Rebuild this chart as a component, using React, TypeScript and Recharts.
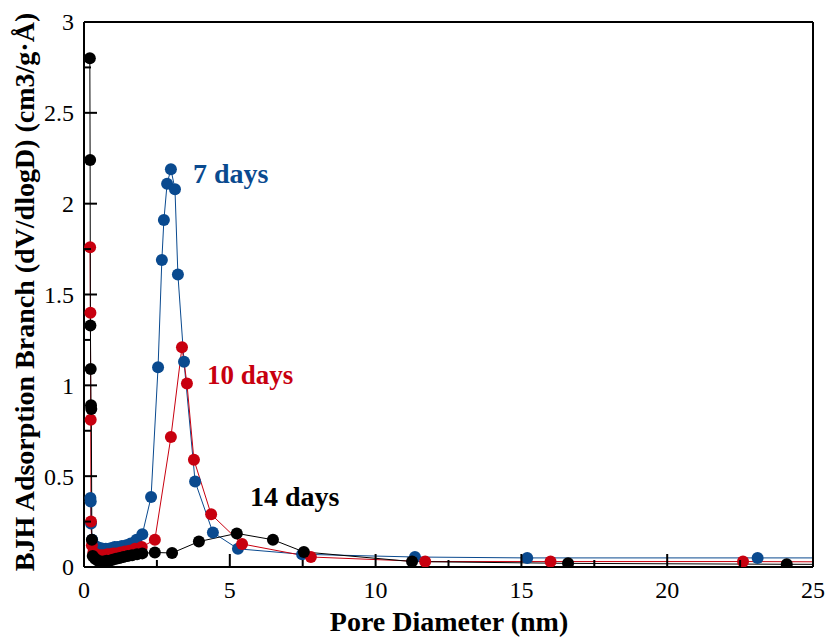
import React from "react";
import { LineChart, Line, XAxis, YAxis, ReferenceLine } from "recharts";

const blueX = [0.22, 0.23, 0.24, 0.28, 0.35, 0.45, 0.55, 0.65, 0.75, 0.85, 0.95, 1.05, 1.15, 1.3, 1.45, 1.6, 1.8, 2.0, 2.3, 2.54, 2.67, 2.74, 2.85, 2.98, 3.12, 3.22, 3.43, 3.81, 4.42, 5.28, 7.48, 11.35, 15.2, 23.1, 40];
const blueY = [0.38, 0.36, 0.24, 0.15, 0.12, 0.11, 0.105, 0.1, 0.1, 0.1, 0.105, 0.11, 0.11, 0.115, 0.12, 0.13, 0.15, 0.18, 0.385, 1.1, 1.69, 1.91, 2.11, 2.19, 2.08, 1.61, 1.13, 0.47, 0.19, 0.1, 0.07, 0.055, 0.05, 0.05, 0.05];

const redX = [0.21, 0.22, 0.23, 0.24, 0.27, 0.32, 0.4, 0.5, 0.6, 0.7, 0.8, 0.9, 1.0, 1.1, 1.25, 1.4, 1.55, 1.75, 1.98, 2.43, 2.98, 3.36, 3.53, 3.77, 4.36, 5.42, 7.78, 11.7, 16.0, 22.6, 40];
const redY = [1.76, 1.4, 0.81, 0.25, 0.12, 0.08, 0.07, 0.065, 0.065, 0.065, 0.07, 0.07, 0.075, 0.075, 0.08, 0.085, 0.09, 0.1, 0.11, 0.15, 0.715, 1.21, 1.01, 0.59, 0.29, 0.127, 0.055, 0.03, 0.03, 0.03, 0.02];

const blackX = [0.2, 0.21, 0.22, 0.23, 0.24, 0.25, 0.27, 0.3, 0.38, 0.48, 0.58, 0.68, 0.78, 0.88, 0.98, 1.1, 1.22, 1.35, 1.5, 1.65, 1.82, 2.0, 2.43, 3.02, 3.94, 5.24, 6.48, 7.54, 11.25, 16.6, 24.1, 40];
const blackY = [2.8, 2.24, 1.33, 1.09, 0.89, 0.87, 0.15, 0.06, 0.045, 0.035, 0.03, 0.03, 0.035, 0.035, 0.04, 0.045, 0.05, 0.055, 0.06, 0.065, 0.07, 0.075, 0.08, 0.077, 0.14, 0.185, 0.15, 0.083, 0.03, 0.02, 0.015, 0.01];

const xTicks = [0, 2.5, 5, 7.5, 10, 12.5, 15, 17.5, 20, 22.5, 25];
const yTicks = [0, 0.25, 0.5, 0.75, 1, 1.25, 1.5, 1.75, 2, 2.25, 2.5, 2.75, 3];

const BLUE = "#0a4a8f";
const RED = "#c8000f";
const BLACK = "#000000";
const FONT = "'Liberation Serif', 'Times New Roman', serif";

const toPoints = (xs: number[], ys: number[]) => xs.map((x, i) => ({ x, y: ys[i] }));
const blueData = toPoints(blueX, blueY);
const redData = toPoints(redX, redY);
const blackData = toPoints(blackX, blackY);

const fmt = (v: number) => String(v);

const YTick = (props: any) => {
  const { x, y, payload } = props;
  const v = payload.value as number;
  const major = Math.abs(v * 2 - Math.round(v * 2)) < 1e-6;
  return (
    <g>
      <line x1={x} x2={x + (major ? 13 : 7)} y1={y} y2={y} stroke="#000" strokeWidth={2} />
      {major && (
        <text x={x - 10} y={y} dy="0.35em" textAnchor="end" fontFamily={FONT} fontSize={24} fill="#000">
          {fmt(v)}
        </text>
      )}
    </g>
  );
};

const XTick = (props: any) => {
  const { x, y, payload } = props;
  const v = payload.value as number;
  const major = Math.abs(v / 5 - Math.round(v / 5)) < 1e-6;
  return (
    <g>
      <line x1={x} x2={x} y1={y} y2={y - (major ? 13 : 7)} stroke="#000" strokeWidth={2} />
      {major && (
        <text x={x} y={y + 31} textAnchor="middle" fontFamily={FONT} fontSize={24} fill="#000">
          {fmt(v)}
        </text>
      )}
    </g>
  );
};

const dot = (c: string) => ({ r: 6, fill: c, stroke: c, strokeWidth: 0 });

export default function App() {
  return (
    <div style={{ position: "absolute", left: 0, top: 0, width: 825, height: 637, background: "#fff" }}>
      <LineChart width={825} height={637} margin={{ top: 22, right: 12, bottom: 69, left: 83 }}>
        <XAxis
          type="number"
          dataKey="x"
          domain={[0, 25]}
          allowDataOverflow
          ticks={xTicks}
          interval={0}
          height={1}
          tickSize={0}
          tickMargin={0}
          tickLine={false}
          axisLine={{ stroke: "#000", strokeWidth: 2 }}
          tick={<XTick />}
        />
        <YAxis
          type="number"
          dataKey="y"
          domain={[0, 3]}
          allowDataOverflow
          ticks={yTicks}
          interval={0}
          width={1}
          tickSize={0}
          tickMargin={0}
          tickLine={false}
          axisLine={{ stroke: "#000", strokeWidth: 2 }}
          tick={<YTick />}
        />
        <ReferenceLine y={3} stroke="#000" strokeWidth={2} ifOverflow="visible" />
        <ReferenceLine x={25} stroke="#000" strokeWidth={2} ifOverflow="visible" />
        <Line data={blueData} dataKey="y" stroke={BLUE} strokeWidth={1} dot={dot(BLUE)} activeDot={false} isAnimationActive={false} />
        <Line data={redData} dataKey="y" stroke={RED} strokeWidth={1} dot={dot(RED)} activeDot={false} isAnimationActive={false} />
        <Line data={blackData} dataKey="y" stroke={BLACK} strokeWidth={1} dot={dot(BLACK)} activeDot={false} isAnimationActive={false} />
      </LineChart>
      <svg width={825} height={637} style={{ position: "absolute", left: 0, top: 0, pointerEvents: "none" }}>
        <text x={193} y={183} fontFamily={FONT} fontWeight="bold" fontSize={28} fill={BLUE}>7 days</text>
        <text x={207} y={384} fontFamily={FONT} fontWeight="bold" fontSize={27} fill={RED}>10 days</text>
        <text x={250} y={506} fontFamily={FONT} fontWeight="bold" fontSize={28} fill={BLACK}>14 days</text>
        <text x={449} y={631} textAnchor="middle" fontFamily={FONT} fontWeight="bold" fontSize={28} fill="#000">Pore Diameter (nm)</text>
        <text x={0} y={0} transform="translate(34,292) rotate(-90)" textAnchor="middle" fontFamily={FONT} fontWeight="bold" fontSize={28} fill="#000">BJH Adsorption Branch (dV/dlogD) (cm3/g·Å)</text>
      </svg>
    </div>
  );
}
